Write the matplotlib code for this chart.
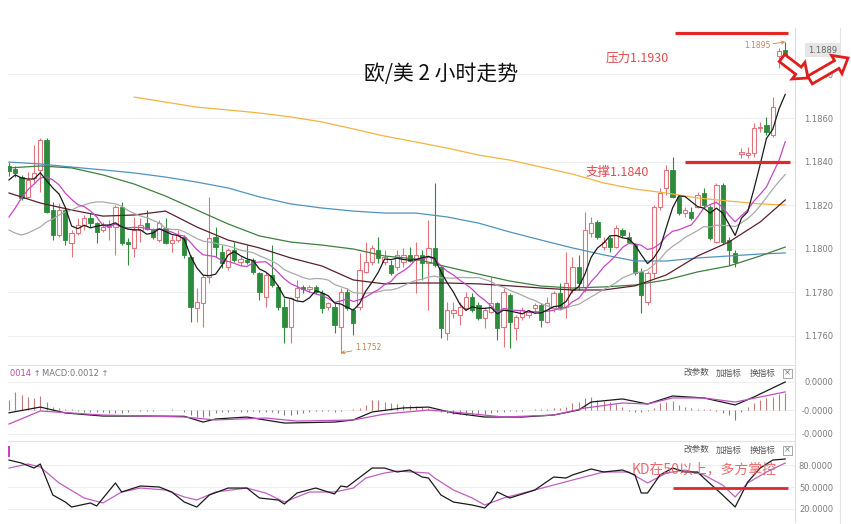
import numpy as np
import matplotlib
matplotlib.use('Agg')
import matplotlib.pyplot as plt
from matplotlib.patches import FancyArrow, Rectangle
from matplotlib.transforms import blended_transform_factory

plt.rcParams['font.family'] = ['DejaVu Sans']
CJK = ['Noto Sans CJK SC', 'DejaVu Sans']

# ---------------- data (EUR/USD 2h candles) ----------------
opens = [1.18380, 1.18366, 1.18329, 1.18238, 1.18325, 1.18362, 1.18499, 1.18178, 1.18063, 1.18178,
         1.18027, 1.18072, 1.18109, 1.18141, 1.18118, 1.18086, 1.18100, 1.18100, 1.18192, 1.18031,
         1.18004, 1.18086, 1.18118, 1.18086, 1.18040, 1.18095, 1.18027, 1.18040, 1.18054, 1.17962,
         1.17728, 1.17751, 1.17871, 1.18054, 1.17985, 1.17917, 1.17994, 1.17939, 1.17949, 1.17949,
         1.17889, 1.17779, 1.17880, 1.17825, 1.17733, 1.17641, 1.17779, 1.17825, 1.17816, 1.17825,
         1.17797, 1.17733, 1.17733, 1.17641, 1.17802, 1.17719, 1.17733, 1.17894, 1.17939, 1.17994,
         1.17939, 1.17926, 1.17917, 1.17939, 1.17972, 1.17949, 1.17972, 1.17935, 1.18004, 1.17917,
         1.17614, 1.17706, 1.17696, 1.17728, 1.17779, 1.17742, 1.17683, 1.17710, 1.17751, 1.17641,
         1.17788, 1.17637, 1.17687, 1.17696, 1.17728, 1.17742, 1.17664, 1.17728, 1.17797, 1.17733,
         1.17811, 1.17917, 1.17825, 1.18072, 1.18123, 1.18008, 1.18050, 1.18008, 1.18086, 1.18054,
         1.18017, 1.17894, 1.17756, 1.17889, 1.18192, 1.18279, 1.18362, 1.18238, 1.18164, 1.18169,
         1.18192, 1.18256, 1.18192, 1.18031, 1.18293, 1.18040, 1.17981, 1.18435, 1.18430, 1.18439,
         1.18554, 1.18568, 1.18522, 1.18884, 1.18912]
highs = [1.18398, 1.18380, 1.18339, 1.18352, 1.18476, 1.18508, 1.18508, 1.18215, 1.18210, 1.18187,
         1.18086, 1.18141, 1.18155, 1.18164, 1.18123, 1.18123, 1.18132, 1.18201, 1.18215, 1.18050,
         1.18146, 1.18141, 1.18178, 1.18095, 1.18132, 1.18141, 1.18063, 1.18086, 1.18063, 1.17972,
         1.17820, 1.17880, 1.18238, 1.18100, 1.18017, 1.18004, 1.18031, 1.17967, 1.18017, 1.17958,
         1.17894, 1.17894, 1.18017, 1.17834, 1.17774, 1.17779, 1.17857, 1.17834, 1.17834, 1.17834,
         1.17811, 1.17756, 1.17751, 1.17820, 1.17820, 1.17728, 1.17981, 1.18031, 1.18017, 1.18054,
         1.17994, 1.17949, 1.17994, 1.18004, 1.18008, 1.18031, 1.17994, 1.18132, 1.18302, 1.17926,
         1.17756, 1.17756, 1.17756, 1.17802, 1.17797, 1.17756, 1.17733, 1.17871, 1.17756, 1.17820,
         1.17797, 1.17696, 1.17733, 1.17719, 1.17751, 1.17751, 1.17779, 1.17806, 1.17843, 1.17985,
         1.17962, 1.17972, 1.18169, 1.18146, 1.18132, 1.18054, 1.18059, 1.18109, 1.18095, 1.18077,
         1.18027, 1.17912, 1.17898, 1.18201, 1.18279, 1.18384, 1.18421, 1.18247, 1.18192, 1.18192,
         1.18261, 1.18279, 1.18201, 1.18302, 1.18300, 1.18054, 1.17994, 1.18462, 1.18467, 1.18577,
         1.18582, 1.18605, 1.18696, 1.18921, 1.18949]
lows = [1.18334, 1.18329, 1.18224, 1.18233, 1.18302, 1.18261, 1.18164, 1.18040, 1.18054, 1.18017,
        1.17962, 1.18063, 1.18086, 1.18100, 1.18027, 1.18077, 1.18040, 1.17972, 1.18017, 1.17926,
        1.17962, 1.18031, 1.18086, 1.18045, 1.18031, 1.18022, 1.17985, 1.18031, 1.17958, 1.17664,
        1.17664, 1.17641, 1.17843, 1.17962, 1.17912, 1.17903, 1.17939, 1.17926, 1.17930, 1.17884,
        1.17765, 1.17733, 1.17825, 1.17719, 1.17568, 1.17568, 1.17765, 1.17797, 1.17802, 1.17793,
        1.17706, 1.17719, 1.17614, 1.17522, 1.17719, 1.17605, 1.17719, 1.17889, 1.17926, 1.17935,
        1.17926, 1.17880, 1.17903, 1.17917, 1.17939, 1.17797, 1.17857, 1.17719, 1.17917, 1.17591,
        1.17582, 1.17683, 1.17650, 1.17719, 1.17710, 1.17673, 1.17637, 1.17706, 1.17582, 1.17550,
        1.17545, 1.17582, 1.17673, 1.17683, 1.17710, 1.17641, 1.17660, 1.17710, 1.17719, 1.17683,
        1.17797, 1.17811, 1.17802, 1.18054, 1.18045, 1.17994, 1.17985, 1.18004, 1.18054, 1.18027,
        1.17880, 1.17706, 1.17742, 1.17866, 1.18178, 1.18247, 1.18233, 1.18155, 1.18146, 1.18132,
        1.18187, 1.18192, 1.18040, 1.18027, 1.18022, 1.17926, 1.17917, 1.18417, 1.18417, 1.18421,
        1.18536, 1.18522, 1.18513, 1.18829, 1.18866]
closes = [1.18357, 1.18348, 1.18233, 1.18316, 1.18348, 1.18499, 1.18169, 1.18063, 1.18178, 1.18040,
          1.18072, 1.18109, 1.18141, 1.18118, 1.18077, 1.18100, 1.18109, 1.18192, 1.18027, 1.18022,
          1.18086, 1.18109, 1.18091, 1.18054, 1.18118, 1.18027, 1.18040, 1.18063, 1.17972, 1.17733,
          1.17756, 1.17871, 1.18050, 1.18008, 1.17935, 1.17994, 1.17949, 1.17953, 1.17939, 1.17894,
          1.17802, 1.17880, 1.17834, 1.17733, 1.17641, 1.17774, 1.17820, 1.17816, 1.17825, 1.17802,
          1.17728, 1.17751, 1.17650, 1.17802, 1.17728, 1.17660, 1.17903, 1.17939, 1.18004, 1.17958,
          1.17962, 1.17889, 1.17972, 1.17972, 1.17944, 1.17972, 1.17935, 1.18004, 1.17926, 1.17637,
          1.17719, 1.17719, 1.17733, 1.17779, 1.17719, 1.17683, 1.17719, 1.17751, 1.17637, 1.17802,
          1.17664, 1.17687, 1.17719, 1.17710, 1.17742, 1.17673, 1.17751, 1.17797, 1.17728, 1.17843,
          1.17917, 1.17843, 1.18086, 1.18118, 1.18054, 1.18031, 1.18008, 1.18095, 1.18063, 1.18031,
          1.17889, 1.17788, 1.17889, 1.18192, 1.18256, 1.18362, 1.18238, 1.18164, 1.18178, 1.18141,
          1.18247, 1.18201, 1.18050, 1.18293, 1.18031, 1.17994, 1.17939, 1.18444, 1.18439, 1.18554,
          1.18559, 1.18536, 1.18650, 1.18907, 1.18890]

# moving-average values before the window fills
ma5_head = [1.18316, 1.18339, 1.18325, 1.18320]
ma10_head = [1.18146, 1.18187, 1.18233, 1.18270, 1.18297, 1.18325, 1.18329, 1.18316, 1.18293]
ma20_head = [1.18086, 1.18072, 1.18063, 1.18072, 1.18086, 1.18100, 1.18123, 1.18137, 1.18155, 1.18169,
             1.18178, 1.18192, 1.18201, 1.18210, 1.18215, 1.18215, 1.18210, 1.18206, 1.18196]

# longer averages at every 5th bar
ma_idx = [0, 5, 10, 15, 20, 25, 30, 35, 40, 45, 50, 55, 60, 65, 70, 75, 80, 85, 90, 95, 100, 105, 110, 115, 120, 124]
ma30 = [1.18256, 1.18210, 1.18178, 1.18150, 1.18155, 1.18173, 1.18100, 1.18040, 1.18004, 1.17958,
        1.17921, 1.17857, 1.17839, 1.17843, 1.17843, 1.17839, 1.17830, 1.17820, 1.17811, 1.17811,
        1.17830, 1.17880, 1.17967, 1.18031, 1.18123, 1.18224]
ma60 = [1.18371, 1.18380, 1.18371, 1.18339, 1.18297, 1.18242, 1.18178, 1.18114, 1.18059, 1.18031,
        1.18017, 1.17999, 1.17967, 1.17953, 1.17917, 1.17884, 1.17852, 1.17829, 1.17820, 1.17825,
        1.17834, 1.17857, 1.17894, 1.17921, 1.17967, 1.18008]
ma120 = [1.18398, 1.18389, 1.18375, 1.18362, 1.18348, 1.18329, 1.18306, 1.18279, 1.18238, 1.18206,
         1.18187, 1.18173, 1.18164, 1.18164, 1.18146, 1.18118, 1.18077, 1.18040, 1.18004, 1.17972,
         1.17944, 1.17944, 1.17958, 1.17967, 1.17976, 1.17981]
ma250_idx = [20, 25, 30, 35, 40, 45, 50, 55, 60, 65, 70, 75, 80, 85, 90, 95, 100, 105, 110, 115, 120, 124]
ma250 = [1.18696, 1.18673, 1.18650, 1.18637, 1.18623, 1.18605, 1.18582, 1.18550, 1.18517, 1.18490,
         1.18462, 1.18430, 1.18407, 1.18375, 1.18343, 1.18302, 1.18274, 1.18256, 1.18233, 1.18219,
         1.18206, 1.18201]

# MACD (values x 1e-4)
macd_hist_e4 = [7.1, 12.9, 10.7, 9.3, 8.6, 10.0, 5.7, 2.1, 1.4, 0.7,
                0.7, -0.7, -1.4, -1.4, -1.4, -1.4, -2.1, -2.1, -2.1, -1.4,
                0.0, -0.7, -0.7, -0.7, 0.0, 0.0, 0.7, 0.0, -1.4, -3.6,
                -5.0, -5.0, -4.3, -2.1, -1.4, -1.4, -0.7, -1.4, -1.4, -0.7,
                -1.4, -1.4, -1.4, -2.1, -3.6, -3.6, -2.9, -2.1, -1.4, -0.7,
                -0.7, -0.7, -1.4, -0.7, 0.0, 0.7, 1.4, 3.6, 7.1, 7.1,
                5.7, 5.0, 4.3, 3.6, 3.6, 2.9, 2.1, 1.4, 0.0, -1.4,
                -2.1, -2.9, -2.9, -3.6, -3.6, -2.9, -2.9, -2.1, -1.4, -1.4,
                -0.7, -0.7, -0.7, 0.0, 0.7, 0.7, 0.7, 1.4, 1.4, 2.1,
                5.0, 5.7, 8.6, 9.3, 7.1, 6.4, 5.7, 4.3, 2.1, -0.7,
                -1.4, -1.4, -0.7, 1.4, 5.0, 5.7, 6.4, 3.6, 2.1, 1.4,
                0.7, 0.7, 0.7, -0.7, -2.1, -3.6, -7.1, -1.4, 2.1, 5.0,
                7.1, 8.6, 9.3, 11.4, 12.1]
dif_idx = [0, 5, 9, 15, 22, 28, 31, 33, 38, 44, 52, 55, 58, 63, 67, 71, 76, 82, 87, 91, 93, 98, 102, 106, 111, 116, 119, 124]
dif_e4 = [-2.0, 2.1, -2.1, -4.3, -4.3, -4.5, -8.6, -6.4, -5.0, -9.3, -8.6, -7.1, -1.4, 1.5, 2.1, -2.1,
          -5.0, -5.0, -3.6, 0.0, 5.7, 7.9, 4.3, 10.0, 8.6, 3.6, 9.3, 20.0]
dea_idx = [0, 5, 15, 28, 33, 41, 46, 55, 60, 67, 71, 79, 87, 92, 98, 102, 106, 111, 116, 124]
dea_e4 = [-10.0, -0.7, -3.6, -5.0, -7.1, -5.7, -7.9, -7.1, -2.9, 0.0, -1.4, -5.0, -3.6, 1.4, 5.0, 4.3,
          8.6, 8.6, 5.7, 12.9]

# KD
k_idx = [0, 2, 4, 5, 7, 9, 10, 13, 14, 17, 18, 21, 24, 26, 28, 30, 32, 35, 38, 40, 43, 44, 46, 49, 52,
         53, 54, 58, 60, 62, 64, 66, 67, 69, 71, 74, 76, 77, 78, 80, 84, 87, 89, 90, 93, 95, 98, 100,
         101, 102, 104, 106, 108, 110, 111, 114, 116, 118, 120, 122, 124]
k_val = [86.8, 82.7, 75.9, 81.4, 39.1, 29.5, 22.7, 28.2, 24.1, 55.5, 43.2, 51.4, 50.0, 43.2, 29.5, 22.7,
         39.1, 48.6, 48.6, 35.0, 32.3, 26.8, 41.8, 48.6, 40.5, 51.4, 50.0, 75.9, 75.9, 70.5, 73.2, 63.6,
         62.3, 39.1, 29.5, 25.4, 21.4, 29.5, 43.2, 35.0, 45.9, 63.6, 62.3, 66.4, 74.6, 70.5, 73.2, 66.4,
         41.8, 41.8, 66.4, 75.9, 70.5, 70.5, 62.3, 39.1, 22.7, 56.8, 75.9, 86.8, 88.2]
d_idx = [0, 3, 5, 8, 12, 15, 18, 21, 25, 28, 30, 33, 38, 41, 44, 48, 52, 55, 57, 60, 62, 67, 68, 71, 74,
         76, 79, 84, 90, 95, 99, 102, 105, 108, 111, 114, 116, 118, 121, 124]
d_val = [75.9, 81.4, 77.3, 55.5, 35.0, 28.2, 43.2, 48.6, 45.9, 36.4, 32.3, 43.2, 48.6, 41.8, 29.5, 43.2,
         43.2, 48.6, 62.3, 69.1, 71.8, 69.1, 62.3, 45.9, 35.0, 25.4, 35.0, 45.9, 59.5, 70.5, 70.5, 55.5,
         69.1, 73.2, 66.4, 52.7, 36.4, 55.5, 70.5, 82.7]

price_ticks = [1.1760, 1.1780, 1.1800, 1.1820, 1.1840, 1.1860, 1.1880]
price_labels = ['1.1760', '1.1780', '1.1800', '1.1820', '1.1840', '1.1860', '1.1880']
macd_ticks = [0.0020, 0.0, -0.00171]
macd_labels = ['0.0000', '-0.0000', '-0.0000']
kd_ticks = [80, 50, 20]
kd_labels = ['80.0000', '50.0000', '20.0000']
resistance = 1.18990
support = 1.18400
kd_level = 48.6

# ---------------- helpers ----------------
def moving_average(vals, n, head):
    c = np.asarray(vals)
    out = np.empty(len(c))
    out[:len(head)] = head
    for i in range(n - 1, len(c)):
        out[i] = c[i - n + 1:i + 1].mean()
    return out

W, H = 851, 524
fig = plt.figure(figsize=(W / 100, H / 100), dpi=100)
fig.patch.set_facecolor('white')

def fax(x0, y0, x1, y1):
    return fig.add_axes([x0 / W, 1 - y1 / H, (x1 - x0) / W, (y1 - y0) / H])

ax = fax(8, 28, 795, 363)
axm = fax(8, 365, 795, 441)
axk = fax(8, 441, 795, 522)

n = len(closes)
idx = np.arange(n)
XL = (-0.16, 125.56)

UP = '#e0747c'
DN = '#2d8c3c'
GRID = '#efefef'
TICKC = '#7a7a7a'

for a in (ax, axm, axk):
    a.set_xlim(*XL)
    a.set_xticks([])
    for s in ('left', 'bottom'):
        a.spines[s].set_visible(False)
    a.spines['right'].set_color('#dcdcdc')
    a.spines['top'].set_color('#e2e2e2')
    a.yaxis.tick_right()
    a.tick_params(axis='y', length=0, pad=27.4, labelsize=6, labelcolor=TICKC)
    a.set_facecolor('white')
ax.spines['top'].set_visible(False)

# ---- main price panel ----
o = np.array(opens); h = np.array(highs); l = np.array(lows); c = np.array(closes)
up = c >= o
ax.vlines(idx[up], l[up], h[up], color=UP, lw=0.8, zorder=2)
ax.vlines(idx[~up], l[~up], h[~up], color=DN, lw=0.8, zorder=2)
bot = np.minimum(o, c)
hgt = np.maximum(np.abs(c - o), 0.000015)
ax.bar(idx[up], hgt[up], bottom=bot[up], width=0.68, facecolor='white', edgecolor=UP, lw=0.8, zorder=3)
ax.bar(idx[~up], hgt[~up], bottom=bot[~up], width=0.68, facecolor=DN, edgecolor=DN, lw=0.6, zorder=3)

ma5 = moving_average(closes, 5, ma5_head)
ma10 = moving_average(closes, 10, ma10_head)
ma20 = moving_average(closes, 20, ma20_head)
ax.plot(ma250_idx, ma250, color='#f2b440', lw=0.9, zorder=4)
ax.plot(ma_idx, ma120, color='#4f93bd', lw=0.9, zorder=4)
ax.plot(ma_idx, ma60, color='#3f7f3f', lw=0.9, zorder=4)
ax.plot(ma_idx, ma30, color='#5c1f2e', lw=0.9, zorder=4)
ax.plot(idx, ma20, color='#aaaaaa', lw=0.9, zorder=4)
ax.plot(idx, ma10, color='#c646c6', lw=0.9, zorder=4)
ax.plot(idx, ma5, color='#1a1a1a', lw=0.9, zorder=5)

ax.set_ylim(1.17476, 1.19013)
ax.set_yticks(price_ticks)
ax.set_yticklabels(price_labels)
ax.grid(axis='y', color=GRID, lw=0.8)
ax.set_axisbelow(True)

ax.hlines(resistance, 106.4, 124.4, color='#e02a2a', lw=2.3, zorder=6)
ax.hlines(support, 108.0, 124.8, color='#e02a2a', lw=2.3, zorder=6)

ANN = '#c8844c'
ax.annotate('1.1895', xy=(n - 1, highs[-1]), xytext=(-15, -4), textcoords='offset pixels',
            ha='right', va='center', fontsize=5.5, color=ANN,
            arrowprops=dict(arrowstyle='->', color=ANN, lw=0.6, shrinkA=0, shrinkB=0))
lo_i = int(np.argmin(lows))
ax.annotate('1.1752', xy=(lo_i, lows[lo_i]), xytext=(14, 5), textcoords='offset pixels',
            ha='left', va='center', fontsize=5.5, color=ANN,
            arrowprops=dict(arrowstyle='->', color=ANN, lw=0.6, shrinkA=0, shrinkB=0))
btr = blended_transform_factory(ax.transAxes, ax.transData)
ax.text(1.0535, closes[-1] + 0.00020, '%.4f' % closes[-1], transform=btr, ha='right', va='center',
        fontsize=6, color='#666666', zorder=7,
        bbox=dict(boxstyle='square,pad=0.3', fc='#e6e6e6', ec='none'), clip_on=False)

# ---- MACD panel ----
hist = np.array(macd_hist_e4) * 1e-4
pos = hist >= 0
axm.vlines(idx[pos], 0, hist[pos], color='#c07a7a', lw=0.8)
axm.vlines(idx[~pos], 0, hist[~pos], color='#808080', lw=0.8)
axm.plot(dif_idx, np.array(dif_e4) * 1e-4, color='#1a1a1a', lw=0.9)
axm.plot(dea_idx, np.array(dea_e4) * 1e-4, color='#c050c0', lw=0.9)
axm.set_ylim(-0.00221, 0.00321)
axm.set_yticks(macd_ticks)
axm.set_yticklabels(macd_labels)
axm.grid(axis='y', color=GRID, lw=0.8)
axm.set_axisbelow(True)

# ---- KD panel ----
axk.plot(d_idx, d_val, color='#c060c0', lw=0.9)
axk.plot(k_idx, k_val, color='#1a1a1a', lw=0.9)
axk.set_ylim(2.25, 112.8)
axk.set_yticks(kd_ticks)
axk.set_yticklabels(kd_labels)
axk.grid(axis='y', color=GRID, lw=0.8)
axk.set_axisbelow(True)
axk.hlines(kd_level, 106.1, 124.4, color='#e02a2a', lw=2.0, zorder=6)

for a in (ax, axm, axk):
    for lab in a.get_yticklabels():
        lab.set_horizontalalignment('right')

# ---------------- overlay decorations (pixel coords) ----------------
ov = fig.add_axes([0, 0, 1, 1], zorder=10)
ov.set_xlim(0, W)
ov.set_ylim(H, 0)
ov.axis('off')
ov.patch.set_alpha(0)

ov.plot([840, 840], [28, H], color='#e4e4e4', lw=0.8)

ov.text(441, 74, '欧/美 2 小时走势', family=CJK, fontsize=15, color='#111111',
        ha='center', va='center')
ov.text(637, 58, '压力1.1930', family=CJK, fontsize=9, color='#e04a4f', ha='center', va='center')
ov.text(617, 172, '支撑1.1840', family=CJK, fontsize=9, color='#e04a4f', ha='center', va='center')
ov.text(704, 469, 'KD在50以上，多方掌控', family=CJK, fontsize=10, color='#e85a5f',
        ha='center', va='center', alpha=0.9)

# panel headers
ov.text(10, 374, '0014 ↑', fontsize=6, color='#b048b0', ha='left', va='center')
ov.text(42, 374, 'MACD:0.0012 ↑', fontsize=6, color='#777777', ha='left', va='center')
for yy in (373, 450):
    ov.text(696, yy, '改参数', family=CJK, fontsize=6.2, color='#555555', ha='center', va='center')
    ov.text(729, yy, '加指标', family=CJK, fontsize=6.2, color='#555555', ha='center', va='center')
    ov.text(763, yy, '换指标', family=CJK, fontsize=6.2, color='#555555', ha='center', va='center')
    ov.add_patch(Rectangle((783, yy - 4.5), 9, 9, fc='white', ec='#999999', lw=0.6))
    ov.text(787.5, yy, '×', fontsize=6, color='#777777', ha='center', va='center')
ov.plot([9, 9], [447, 456], color='#c040c0', lw=1.4)

# red hollow arrows
ov.add_patch(FancyArrow(782, 58, 26, 20, width=9, head_width=21, head_length=12,
                        length_includes_head=True, fc='white', ec='#e01e1e', lw=2.0, zorder=12))
ov.add_patch(FancyArrow(810, 80, 38, -22, width=9, head_width=21, head_length=13,
                        length_includes_head=True, fc='white', ec='#e01e1e', lw=2.0, zorder=12))

fig.savefig('out.png', dpi=100, facecolor='white')
